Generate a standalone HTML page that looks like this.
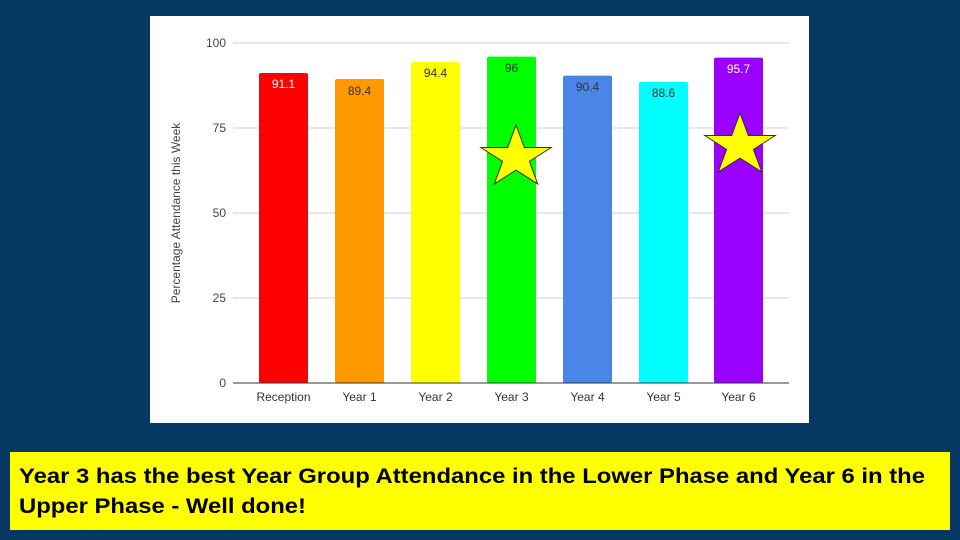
<!DOCTYPE html>
<html><head><meta charset="utf-8"><style>
body{margin:0;width:960px;height:540px;background:#073763;overflow:hidden;font-family:"Liberation Sans",Arial,sans-serif}
</style></head><body>
<svg width="960" height="540" style="position:absolute;left:0;top:0" font-family="Liberation Sans, Arial, sans-serif">
<rect x="150" y="16" width="659" height="407" fill="#fff"/>
<g stroke="#d0d0d0" stroke-width="1">
<line x1="233" x2="789" y1="43" y2="43"/><line x1="233" x2="789" y1="128" y2="128"/>
<line x1="233" x2="789" y1="213" y2="213"/><line x1="233" x2="789" y1="298" y2="298"/>
</g>
<g font-size="12" fill="#444" text-anchor="end">
<text x="226" y="47">100</text><text x="226" y="132">75</text><text x="226" y="217">50</text><text x="226" y="302">25</text><text x="226" y="387">0</text>
</g>
<text transform="translate(180,213) rotate(-90)" font-size="12" fill="#444" text-anchor="middle">Percentage Attendance this Week</text>
<g>
<rect x="259" y="73" width="49" height="310" rx="2" fill="#ff0000"/>
<rect x="335" y="79" width="49" height="304" rx="2" fill="#ff9900"/>
<rect x="411" y="62" width="49" height="321" rx="2" fill="#ffff00"/>
<rect x="487" y="56.6" width="49" height="326.4" rx="2" fill="#00ff00"/>
<rect x="563" y="75.6" width="49" height="307.4" rx="2" fill="#4a86e8"/>
<rect x="639" y="81.8" width="49" height="301.2" rx="2" fill="#00ffff"/>
<rect x="714" y="57.6" width="49" height="325.4" rx="2" fill="#9900ff"/>
</g>
<line x1="233" x2="789" y1="383" y2="383" stroke="#333" stroke-width="1"/>
<g font-size="12" text-anchor="middle">
<text x="283.5" y="88" fill="#fff">91.1</text>
<text x="359.5" y="95" fill="#333">89.4</text>
<text x="435.5" y="77" fill="#333">94.4</text>
<text x="511.5" y="72" fill="#333">96</text>
<text x="587.5" y="91" fill="#333">90.4</text>
<text x="663.5" y="97" fill="#333">88.6</text>
<text x="738.5" y="73" fill="#fff">95.7</text>
</g>
<g font-size="12" fill="#333" text-anchor="middle">
<text x="283.5" y="401">Reception</text><text x="359.5" y="401">Year 1</text><text x="435.5" y="401">Year 2</text>
<text x="511.5" y="401">Year 3</text><text x="587.5" y="401">Year 4</text><text x="663.5" y="401">Year 5</text><text x="738.5" y="401">Year 6</text>
</g>
<polygon transform="translate(516,157.6) scale(37,32.6)" vector-effect="non-scaling-stroke" points="0,-1 0.2245,-0.309 0.951,-0.309 0.363,0.118 0.588,0.809 0,0.382 -0.588,0.809 -0.363,0.118 -0.951,-0.309 -0.2245,-0.309" fill="#ffff00" stroke="#333" stroke-width="1"/>
<polygon transform="translate(740,145.6) scale(37,32.6)" vector-effect="non-scaling-stroke" points="0,-1 0.2245,-0.309 0.951,-0.309 0.363,0.118 0.588,0.809 0,0.382 -0.588,0.809 -0.363,0.118 -0.951,-0.309 -0.2245,-0.309" fill="#ffff00" stroke="#333" stroke-width="1"/>
<rect x="10" y="452" width="940" height="78" fill="#ffff00"/>
<text font-size="21" font-weight="bold" fill="#000"><tspan x="19" y="483" textLength="906" lengthAdjust="spacingAndGlyphs">Year 3 has the best Year Group Attendance in the Lower Phase and Year 6 in the</tspan></text>
<text font-size="21" font-weight="bold" fill="#000"><tspan x="19" y="513" textLength="287" lengthAdjust="spacingAndGlyphs">Upper Phase - Well done!</tspan></text>
</svg>
</body></html>
